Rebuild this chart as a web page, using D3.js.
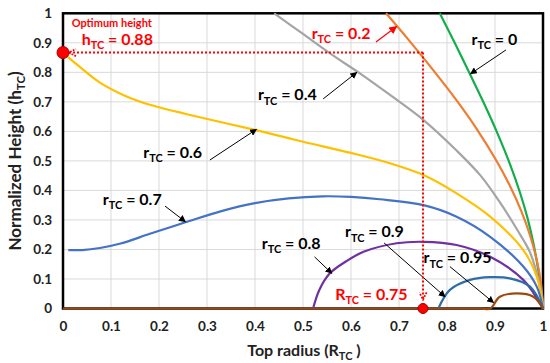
<!DOCTYPE html>
<html>
<head>
<meta charset="utf-8">
<script src="https://d3js.org/d3.v7.min.js"></script>
<style>
  body { margin: 0; background: #fff; }
  text { font-family: Lato, "Open Sans", sans-serif; font-weight: bold; }
</style>
</head>
<body>
<div id="chart"></div>
<script>
// tick values and labels
var ticks = [0, 0.1, 0.2, 0.3, 0.4, 0.5, 0.6, 0.7, 0.8, 0.9, 1];
var tickLabels = ["0", "0.1", "0.2", "0.3", "0.4", "0.5", "0.6", "0.7", "0.8", "0.9", "1"];

// curves: top radius R vs normalized height h
var r00_R = [0.785, 0.816, 0.846, 0.877, 0.906, 0.93, 0.952, 0.968, 0.98, 0.99, 0.997, 1];
var r00_h = [1, 0.9, 0.8, 0.695, 0.59, 0.494, 0.393, 0.305, 0.221, 0.131, 0.047, 0];
var r02_R = [0.673, 0.72, 0.77, 0.82, 0.86, 0.90, 0.93, 0.955, 0.973, 0.987, 0.996, 1];
var r02_h = [1, 0.91, 0.81, 0.705, 0.613, 0.509, 0.419, 0.329, 0.248, 0.164, 0.083, 0];
var r04_R = [0.44, 0.5, 0.56, 0.62, 0.68, 0.75, 0.82, 0.87, 0.91, 0.945, 0.973, 0.99, 0.998, 1];
var r04_h = [1, 0.93, 0.86, 0.795, 0.725, 0.64, 0.535, 0.45, 0.36, 0.27, 0.19, 0.1, 0.04, 0];
var r06_R = [0, 0.03, 0.077, 0.13, 0.181, 0.285, 0.4, 0.5, 0.6, 0.681, 0.751, 0.82, 0.89, 0.959, 0.987, 1];
var r06_h = [0.867, 0.825, 0.765, 0.72, 0.69, 0.648, 0.605, 0.565, 0.527, 0.492, 0.452, 0.39, 0.311, 0.198, 0.108, 0];
var r07_R = [0.011, 0.04, 0.077, 0.12, 0.181, 0.255, 0.33, 0.4, 0.47, 0.54, 0.6, 0.66, 0.751, 0.82, 0.89, 0.959, 0.987, 1];
var r07_h = [0.198, 0.198, 0.205, 0.22, 0.253, 0.292, 0.33, 0.357, 0.373, 0.38, 0.378, 0.37, 0.35, 0.311, 0.243, 0.142, 0.074, 0];
var r08_R = [0.521, 0.534, 0.556, 0.59, 0.626, 0.695, 0.751, 0.82, 0.89, 0.959, 1];
var r08_h = [0, 0.063, 0.119, 0.16, 0.192, 0.221, 0.226, 0.215, 0.175, 0.097, 0];
var r09_R = [0.782, 0.806, 0.848, 0.89, 0.931, 0.973, 1];
var r09_h = [0, 0.063, 0.097, 0.106, 0.102, 0.074, 0];
var r095_R = [0, 0.3, 0.6, 0.8, 0.87, 0.89, 0.91, 0.945, 0.98, 1];
var r095_h = [0, 0, 0, 0, 0, 0, 0.04, 0.051, 0.04, 0];

// optimum point
var optR = 0.75;
var optH = 0.867;

var series = [
    { name: "0", R: r00_R, h: r00_h, color: "#13AD4B" },
    { name: "0.2", R: r02_R, h: r02_h, color: "#ED7D31" },
    { name: "0.4", R: r04_R, h: r04_h, color: "#A5A5A5" },
    { name: "0.6", R: r06_R, h: r06_h, color: "#FFC000" },
    { name: "0.7", R: r07_R, h: r07_h, color: "#4472C4" },
    { name: "0.8", R: r08_R, h: r08_h, color: "#7030A0" },
    { name: "0.9", R: r09_R, h: r09_h, color: "#2E6DA8" },
    { name: "0.95", R: r095_R, h: r095_h, color: "#9E480E" }
];

var w = 550, h = 363;
var plotLeft = 63, plotRight = 543, plotTop = 13.3, plotBottom = 308.5;

var x = d3.scaleLinear().domain([0, 1]).range([plotLeft, plotRight]);
var y = d3.scaleLinear().domain([0, 1]).range([plotBottom, plotTop]);

var svg = d3.select("#chart")
    .append("svg")
    .attr("width", w)
    .attr("height", h);

// markers
var defs = svg.append("defs");
defs.append("marker")
    .attr("id", "arrowBlack")
    .attr("viewBox", "0 0 10 10")
    .attr("refX", 9).attr("refY", 5)
    .attr("markerWidth", 7).attr("markerHeight", 7)
    .attr("markerUnits", "userSpaceOnUse")
    .attr("orient", "auto")
    .append("path").attr("d", "M0,0 L10,5 L0,10 z").attr("fill", "#000");
defs.append("marker")
    .attr("id", "arrowRed")
    .attr("viewBox", "0 0 10 10")
    .attr("refX", 9).attr("refY", 5)
    .attr("markerWidth", 8).attr("markerHeight", 8)
    .attr("markerUnits", "userSpaceOnUse")
    .attr("orient", "auto")
    .append("path").attr("d", "M0,0 L10,5 L0,10 z").attr("fill", "#FF0000");
defs.append("marker")
    .attr("id", "chevRed")
    .attr("viewBox", "0 0 10 10")
    .attr("refX", 9).attr("refY", 5)
    .attr("markerWidth", 9).attr("markerHeight", 9)
    .attr("markerUnits", "userSpaceOnUse")
    .attr("orient", "auto")
    .append("path").attr("d", "M1,1 L9,5 L1,9").attr("fill", "none")
    .attr("stroke", "#FF0000").attr("stroke-width", 2).attr("stroke-dasharray", "2,1.5");

// grid
svg.append("g").selectAll("line")
    .data(ticks)
    .enter().append("line")
    .attr("x1", function(d) { return x(d); })
    .attr("x2", function(d) { return x(d); })
    .attr("y1", plotTop).attr("y2", plotBottom)
    .attr("stroke", "#D9D9D9").attr("stroke-width", 1);
svg.append("g").selectAll("line")
    .data(ticks)
    .enter().append("line")
    .attr("y1", function(d) { return y(d); })
    .attr("y2", function(d) { return y(d); })
    .attr("x1", plotLeft).attr("x2", plotRight)
    .attr("stroke", "#D9D9D9").attr("stroke-width", 1);

// axes
var xAxis = d3.axisBottom(x).tickValues(ticks).tickSize(0).tickPadding(13)
    .tickFormat(function(d, i) { return tickLabels[i]; });
var yAxis = d3.axisLeft(y).tickValues(ticks).tickSize(0).tickPadding(11)
    .tickFormat(function(d, i) { return tickLabels[i]; });

var gx = svg.append("g").attr("transform", "translate(0," + plotBottom + ")").call(xAxis);
var gy = svg.append("g").attr("transform", "translate(" + plotLeft + ",0)").call(yAxis);
[gx, gy].forEach(function(g) {
    g.select(".domain").remove();
    g.selectAll("text")
        .attr("font-family", "Lato, sans-serif")
        .attr("font-weight", "bold")
        .attr("font-size", 13.5)
        .attr("fill", "#222");
});

// frame
svg.append("rect")
    .attr("x", plotLeft).attr("y", plotTop)
    .attr("width", plotRight - plotLeft).attr("height", plotBottom - plotTop)
    .attr("fill", "none").attr("stroke", "#000").attr("stroke-width", 2.5);

// curves
var line = d3.line()
    .x(function(d) { return x(d[0]); })
    .y(function(d) { return y(d[1]); })
    .curve(d3.curveCatmullRom.alpha(0.5));

svg.append("g").selectAll("path")
    .data(series)
    .enter().append("path")
    .attr("d", function(s) { return line(d3.zip(s.R, s.h)); })
    .attr("fill", "none")
    .attr("stroke", function(s) { return s.color; })
    .attr("stroke-width", 2.2);

// text with subscript helper
function subText(px, py, main, sub, rest, size, color) {
    var t = svg.append("text")
        .attr("x", x(px)).attr("y", y(py))
        .attr("font-size", size)
        .attr("fill", color);
    t.append("tspan").text(main);
    t.append("tspan").attr("font-size", size * 0.68).attr("dy", size * 0.28).text(sub);
    t.append("tspan").attr("dy", -size * 0.28).text(rest);
    return t;
}

function arrow(x1, y1, x2, y2, marker, color, width) {
    svg.append("line")
        .attr("x1", x(x1)).attr("y1", y(y1))
        .attr("x2", x(x2)).attr("y2", y(y2))
        .attr("stroke", color).attr("stroke-width", width)
        .attr("marker-end", "url(#" + marker + ")");
}

// black labels
subText(0.851, 0.893, "r", "TC", " = 0", 16, "#000");
arrow(0.923, 0.876, 0.849, 0.795, "arrowBlack", "#000", 1);
subText(0.406, 0.706, "r", "TC", " = 0.4", 16, "#000");
arrow(0.542, 0.71, 0.612, 0.80, "arrowBlack", "#000", 1);
subText(0.167, 0.51, "r", "TC", " = 0.6", 16, "#000");
arrow(0.306, 0.503, 0.403, 0.607, "arrowBlack", "#000", 1);
subText(0.083, 0.351, "r", "TC", " = 0.7", 16, "#000");
arrow(0.2125, 0.347, 0.255, 0.294, "arrowBlack", "#000", 1);
subText(0.414, 0.2016, "r", "TC", " = 0.8", 16, "#000");
arrow(0.524, 0.175, 0.56, 0.119, "arrowBlack", "#000", 1);
subText(0.5875, 0.242, "r", "TC", " = 0.9", 16, "#000");
arrow(0.669, 0.222, 0.796, 0.04, "arrowBlack", "#000", 1);
subText(0.751, 0.153, "r", "TC", " = 0.95", 16, "#000");
arrow(0.806, 0.142, 0.897, 0.02, "arrowBlack", "#000", 1);

// red labels
subText(0.518, 0.913, "r", "TC", " = 0.2", 16, "#FF0000");
arrow(0.652, 0.903, 0.695, 0.955, "arrowRed", "#FF0000", 1.2);
subText(0.567, 0.029, "R", "TC", " = 0.75", 16, "#FF0000");
svg.append("text")
    .attr("x", x(0.018)).attr("y", y(0.954))
    .attr("font-size", 11).attr("fill", "#FF0000")
    .text("Optimum height");
subText(0.039, 0.893, "h", "TC", " = 0.88", 16, "#FF0000");

// red dotted guide lines to the optimum point
svg.append("line")
    .attr("x1", x(optR)).attr("y1", y(optH))
    .attr("x2", x(0.012)).attr("y2", y(optH))
    .attr("stroke", "#FF0000").attr("stroke-width", 2)
    .attr("stroke-dasharray", "2,2")
    .attr("marker-end", "url(#chevRed)");
svg.append("line")
    .attr("x1", x(optR)).attr("y1", y(optH))
    .attr("x2", x(optR)).attr("y2", y(0.03))
    .attr("stroke", "#FF0000").attr("stroke-width", 2)
    .attr("stroke-dasharray", "2,2")
    .attr("marker-end", "url(#chevRed)");

// red dots
svg.append("circle")
    .attr("cx", x(0)).attr("cy", y(optH)).attr("r", 6)
    .attr("fill", "#FF0000").attr("stroke", "#A00000").attr("stroke-width", 1);
svg.append("circle")
    .attr("cx", x(optR)).attr("cy", y(0)).attr("r", 5)
    .attr("fill", "#FF0000").attr("stroke", "#A00000").attr("stroke-width", 1);

// axis titles
var xt = svg.append("text")
    .attr("x", 304).attr("y", 356)
    .attr("text-anchor", "middle")
    .attr("font-size", 16).attr("fill", "#222");
xt.append("tspan").text("Top radius (R");
xt.append("tspan").attr("font-size", 11).attr("dy", 4).text("TC");
xt.append("tspan").attr("dy", -4).text(" )");

var yt = svg.append("text")
    .attr("transform", "translate(21," + ((plotTop + plotBottom) / 2) + ") rotate(-90)")
    .attr("text-anchor", "middle")
    .attr("font-size", 17).attr("fill", "#222");
yt.append("tspan").text("Normalized Height (h");
yt.append("tspan").attr("font-size", 11.5).attr("dy", 4).text("TC");
yt.append("tspan").attr("dy", -4).text(")");
</script>
</body>
</html>
